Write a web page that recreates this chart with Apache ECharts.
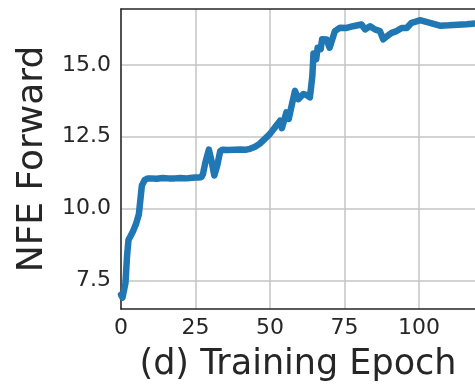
<!DOCTYPE html>
<html>
<head>
<meta charset="utf-8">
<script src="https://cdn.jsdelivr.net/npm/echarts@6/dist/echarts.min.js"></script>
<style>
html,body{margin:0;padding:0;background:#fff;}
#chart{width:475px;height:387px;}
</style>
</head>
<body>
<div id="chart"></div>
<script>
// Training epoch (x) and NFE forward (y)
const epochs = [0,0.5,1,1.5,2,2.5,3,4,5,6,6.5,7,8,9,10,12,14,16,18,20,22,24,25,26,27,27.5,28.3,29.5,30.5,31.3,32.3,33.3,34,36,38,40,42,43.3,45,46.6,48,50,51.7,53.4,54,55.5,56.3,57.3,58.4,59.5,61.2,62.3,63.4,64.2,64.6,65.5,66,67,67.5,69,70,71.8,73.5,75.7,77.9,80.7,81.9,83.6,85.2,86.9,88,89.2,90.8,92.5,94.2,95.9,97.5,99.2,100.3,103.7,107,110,113,116,119];
const nfeForward = [7.0,6.9,6.95,7.4,8.3,8.9,9.0,9.2,9.45,9.8,10.3,10.8,11.0,11.05,11.05,11.04,11.06,11.05,11.05,11.06,11.05,11.07,11.08,11.08,11.1,11.2,11.6,12.05,11.6,11.15,11.5,12.0,12.05,12.04,12.05,12.06,12.05,12.08,12.15,12.26,12.4,12.6,12.83,13.06,12.8,13.35,13.12,13.6,14.1,13.81,13.99,13.95,13.87,14.6,15.4,15.2,15.6,15.55,15.9,15.89,15.6,16.18,16.3,16.29,16.35,16.41,16.24,16.35,16.24,16.18,15.89,16.0,16.12,16.18,16.29,16.29,16.47,16.52,16.56,16.47,16.37,16.38,16.4,16.42,16.45];
const xTicks = [0,25,50,75,100];
const yTicks = [7.5,10.0,12.5,15.0];
const xLabel = '(d) Training Epoch';
const yLabel = 'NFE Forward';

const points = epochs.map((e, i) => [e, nfeForward[i]]);
const FONT = 'DejaVu Sans';
const TXT = '#262626';

const chart = echarts.init(document.getElementById('chart'), null, {renderer: 'canvas'});
chart.setOption({
  animation: false,
  backgroundColor: '#ffffff',
  grid: {left: 121, top: 9, right: 0, bottom: 76, containLabel: false},
  xAxis: [{
    type: 'value', min: 0, max: 118.8, interval: 25,
    axisLine: {show: true, lineStyle: {color: TXT, width: 1.5}},
    axisTick: {show: false},
    axisLabel: {
      fontFamily: FONT, fontSize: 22, color: TXT, margin: 8,
      showMaxLabel: false,
      formatter: v => xTicks.indexOf(v) >= 0 ? String(v) : ''
    },
    splitLine: {show: true, showMaxLine: false, lineStyle: {color: '#c4c4c4', width: 1.5}},
    name: xLabel, nameLocation: 'middle', nameGap: 38,
    nameTextStyle: {fontFamily: FONT, fontSize: 35, color: TXT}
  }, {
    type: 'value', position: 'top', min: 0, max: 118.8,
    axisLine: {show: true, lineStyle: {color: TXT, width: 1.5}},
    axisTick: {show: false}, axisLabel: {show: false}, splitLine: {show: false}
  }],
  yAxis: {
    type: 'value', min: 6.5, max: 16.95, interval: 0.5,
    axisLine: {show: true, lineStyle: {color: TXT, width: 1.5}},
    axisTick: {show: false},
    axisLabel: {
      fontFamily: FONT, fontSize: 22, color: TXT, margin: 10,
      formatter: v => yTicks.some(t => Math.abs(t - v) < 1e-6) ? v.toFixed(1) : ''
    },
    splitLine: {show: true, lineStyle: {
      color: ['rgba(0,0,0,0)','rgba(0,0,0,0)','#c4c4c4','rgba(0,0,0,0)','rgba(0,0,0,0)'],
      width: 1.5}},
    name: yLabel, nameLocation: 'middle', nameGap: 68,
    nameTextStyle: {fontFamily: FONT, fontSize: 36, color: TXT}
  },
  series: [{
    type: 'line', data: points, showSymbol: false, symbol: 'none',
    clip: true,
    lineStyle: {color: '#1f77b4', width: 6.5, cap: 'round', join: 'round'}
  }]
});
</script>
</body>
</html>
